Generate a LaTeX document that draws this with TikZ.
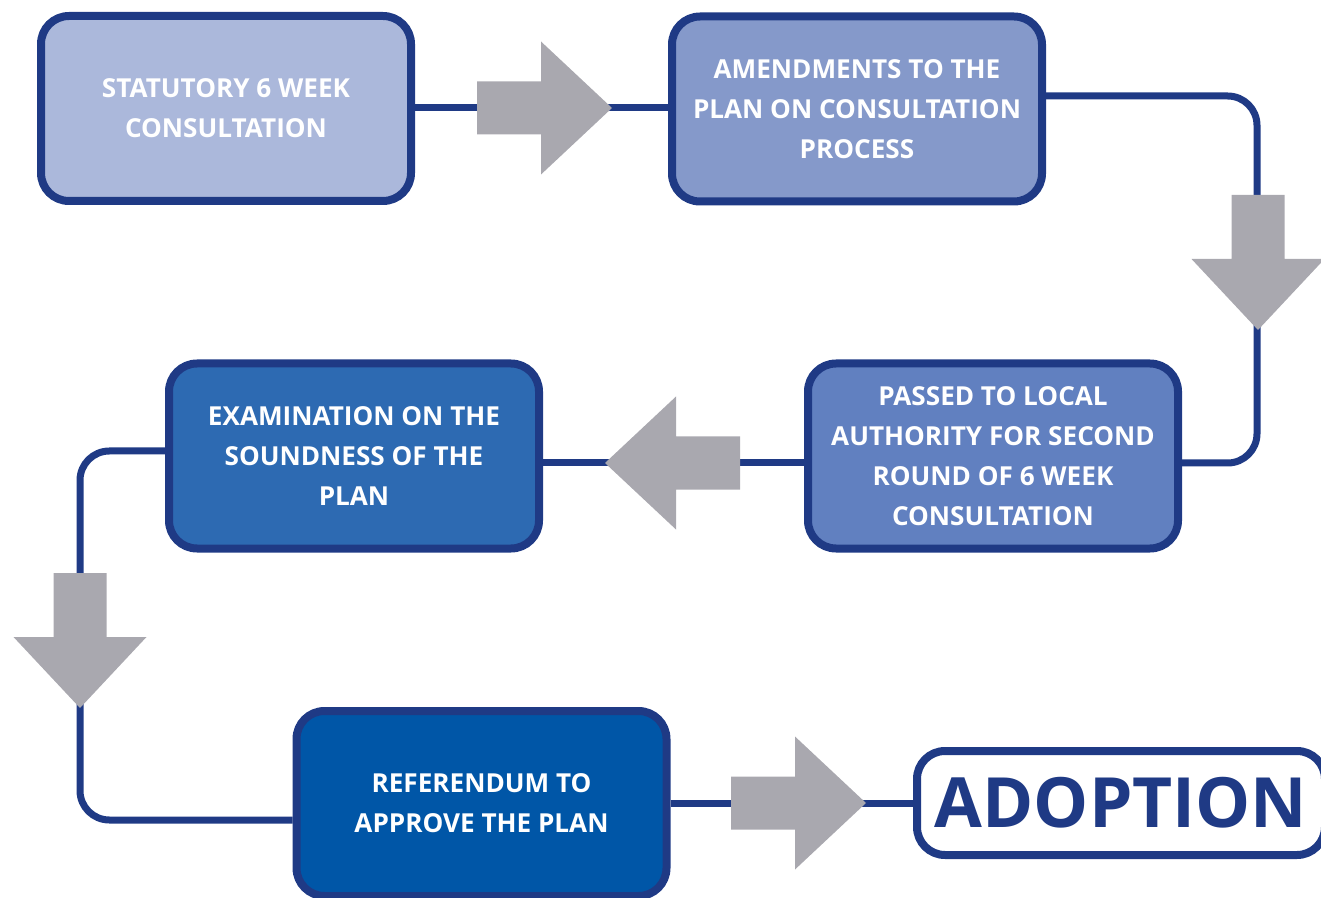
\documentclass[tikz,border=0pt]{standalone}
\usepackage{fontspec}
\setmainfont{Open Sans}
\definecolor{navy}{HTML}{1F3A85}
\definecolor{fillA}{HTML}{ABB8DB}
\definecolor{fillB}{HTML}{8599CA}
\definecolor{fillC}{HTML}{6180C0}
\definecolor{fillD}{HTML}{2D6AB2}
\definecolor{fillE}{HTML}{0056A7}
\definecolor{arrowgray}{HTML}{A9A8AF}
\tikzset{
  stepbox/.style={draw=navy, line width=6pt, rounded corners=21pt,
    minimum width=277.5pt, minimum height=138.75pt, align=center,
    text=white, inner sep=0pt,
    font=\bfseries\fontsize{19.6}{30}\selectfont},
  link/.style={draw=navy, line width=5.25pt, rounded corners=22pt},
  pics/fatarrow/.style={code={
    \fill[arrowgray] (0,0) -- (-71,-66.5) -- (-71,-26.5) -- (-135,-26.5)
      -- (-135,26.5) -- (-71,26.5) -- (-71,66.5) -- cycle;}}
}
\begin{document}
\begin{tikzpicture}[x=0.75pt,y=-0.75pt]
\useasboundingbox (0,0) rectangle (1321,898);
\clip (0,0) rectangle (1321,898);
\node[stepbox, fill=fillA] (b1) at (226,108.5) {STATUTORY 6 WEEK\\CONSULTATION};
\node[stepbox, fill=fillB] (b2) at (857,109) {AMENDMENTS TO THE\\PLAN ON CONSULTATION\\PROCESS};
\node[stepbox, fill=fillC] (b3) at (993,456) {PASSED TO LOCAL\\AUTHORITY FOR SECOND\\ROUND OF 6 WEEK\\CONSULTATION};
\node[stepbox, fill=fillD] (b4) at (354,456) {EXAMINATION ON THE\\SOUNDNESS OF THE\\PLAN};
\node[stepbox, fill=fillE] (b5) at (481.5,803.5) {REFERENDUM TO\\APPROVE THE PLAN};
\node[stepbox, fill=white, text=navy, minimum width=306pt, minimum height=78pt,
  font=\bfseries\fontsize{52}{60}\selectfont] (b6) at (1121,803) {ADOPTION};
% connectors
\draw[link] (b1.east |- 0,108) -- (b2.west |- 0,108);
\draw[link] (b2.east |- 0,96) -- (1257,96) -- (1257,463) -- (b3.east |- 0,463);
\draw[link] (b3.west |- 0,463) -- (b4.east |- 0,463);
\draw[link] (b4.west |- 0,451) -- (80,451) -- (80,820) -- (b5.west |- 0,820);
\draw[link] (b5.east |- 0,803) -- (b6.west |- 0,803);
% arrows
\pic at (612,108) {fatarrow};
\pic[rotate=-90] at (1258,330) {fatarrow};
\pic[rotate=180] at (605,463) {fatarrow};
\pic[rotate=-90] at (80,708) {fatarrow};
\pic at (866,803) {fatarrow};
\end{tikzpicture}
\end{document}
